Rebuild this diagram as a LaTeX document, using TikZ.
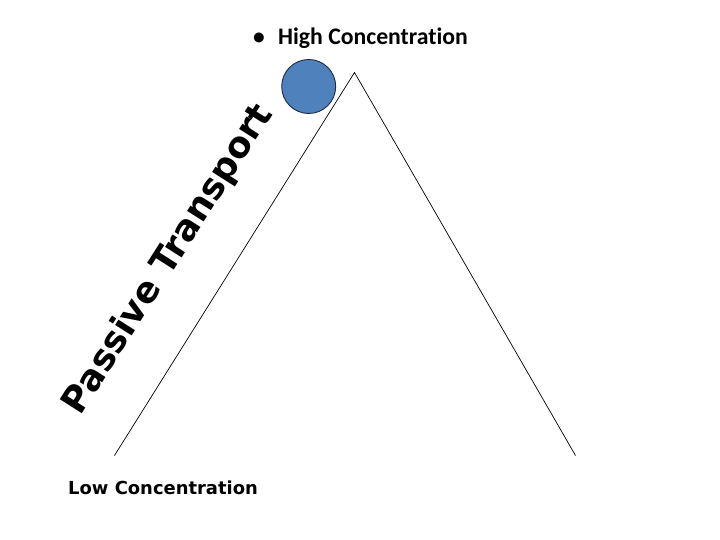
\documentclass[tikz,border=0pt]{standalone}
\usepackage{fontspec}
\newfontfamily\calib[Ligatures=NoCommon]{Carlito}
\newfontfamily\verd{DejaVu Sans}
\definecolor{ballblue}{HTML}{4F81BD}
\definecolor{balledge}{HTML}{1F2A44}
\begin{document}
\begin{tikzpicture}[x=1bp,y=-1bp,
  edge/.style={draw=black,line width=0.7bp},
  lbl/.style={inner sep=0pt,text=black}]
\useasboundingbox (0,0) rectangle (720,540);
\coordinate (apex) at (354.5,72.5);
\coordinate (bl) at (114.5,455.5);
\coordinate (br) at (575.5,455.5);
\draw[edge] (bl) -- (apex) -- (br);
\node[circle,fill=ballblue,draw=balledge,line width=0.9bp,minimum size=54bp,inner sep=0pt] (ball) at (308.7,86.5) {};
\node[lbl,anchor=base west,font=\calib\bfseries\fontsize{23.5}{26}\selectfont] (bullet) at (253,45) {•};
\node[lbl,anchor=base west,font=\calib\bfseries\fontsize{23.8}{26}\selectfont] (high) at (278,45) {High Concentration};
\node[lbl,anchor=base west,font=\verd\bfseries\fontsize{18}{20}\selectfont] (low) at (68,494) {Low Concentration};
\node[lbl,anchor=base,rotate=57.5,font=\verd\bfseries\fontsize{36}{40}\selectfont] (pt) at (177,265) {Passive Transport};
\end{tikzpicture}
\end{document}
